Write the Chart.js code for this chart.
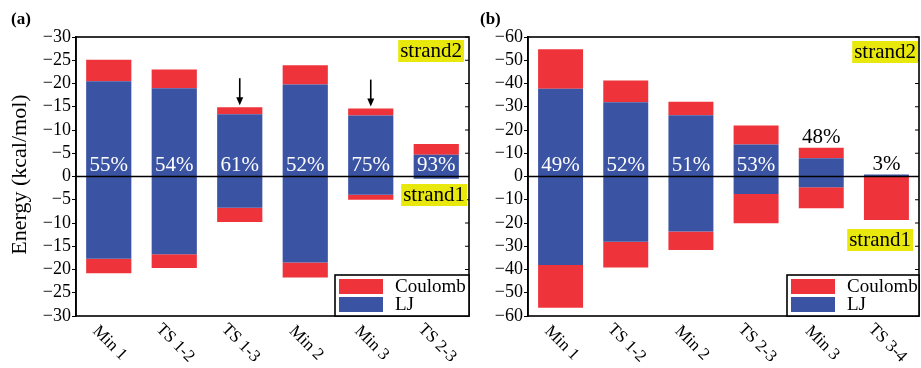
<!DOCTYPE html>
<html><head><meta charset="utf-8">
<script src="https://cdn.jsdelivr.net/npm/chart.js@4/dist/chart.umd.min.js"></script>
<style>
html,body{margin:0;padding:0;background:#fff;}
#wrap{position:relative;width:921px;height:368px;overflow:hidden;background:#fff;}
#ca{position:absolute;left:0;top:0;}
#cb{position:absolute;left:470px;top:0;}
</style></head><body>
<div id="wrap"><canvas id="ca" width="470" height="368"></canvas><canvas id="cb" width="451" height="368"></canvas></div>
<script>
// ---------- DATA ----------
const categoriesA = ['Min 1','TS 1-2','TS 1-3','Min 2','Min 3','TS 2-3'];
const ljStrand2A = [20.5, 19.0, 13.4, 19.8, 13.1, 4.7];
const coulombStrand2A = [4.6, 4.0, 1.5, 4.1, 1.5, 2.3];
const ljStrand1A = [17.7, 16.7, 6.7, 18.5, 3.9, 0.5];
const coulombStrand1A = [3.1, 3.0, 3.1, 3.2, 1.1, 0];
const percentA = ['55%','54%','61%','52%','75%','93%'];

const categoriesB = ['Min 1','TS 1-2','Min 2','TS 2-3','Min 3','TS 3-4'];
const ljStrand2B = [37.7, 31.9, 26.3, 13.8, 7.9, 0.9];
const coulombStrand2B = [17.0, 9.4, 5.9, 8.1, 4.5, 0];
const ljStrand1B = [38.1, 28.1, 23.7, 7.5, 4.6, 0];
const coulombStrand1B = [18.3, 11.0, 7.9, 12.6, 9.1, 18.7];
const percentB = ['49%','52%','51%','53%','48%','3%'];

const yRangeA = 30, yStepA = 5;
const yRangeB = 60, yStepB = 10;
const legendLabels = ['Coulomb','LJ'];

// ---------- STYLE ----------
const SERIF = '"Liberation Serif","Times New Roman",serif';
const RED = '#ee333b';
const BLUE = '#3a53a3';

const deco = {
  id: 'deco',
  afterDatasetsDraw(chart, args, o) {
    const ctx = chart.ctx, a = chart.chartArea, x = chart.scales.x, y = chart.scales.y;
    ctx.save();
    const y0 = y.getPixelForValue(0);
    ctx.strokeStyle = '#000'; ctx.lineWidth = 1.3;
    ctx.beginPath(); ctx.moveTo(a.left, y0); ctx.lineTo(a.right, y0); ctx.stroke();
    ctx.lineWidth = 1.6;
    ctx.strokeRect(a.left, a.top, a.right - a.left, a.bottom - a.top);
    ctx.lineWidth = 1;
    y.ticks.forEach(t => {
      const py = y.getPixelForValue(t.value);
      ctx.beginPath(); ctx.moveTo(a.right, py); ctx.lineTo(a.right - 4, py); ctx.stroke();
    });
    ctx.font = '21px ' + SERIF;
    ctx.textAlign = 'center'; ctx.textBaseline = 'middle';
    o.pct.forEach((p, i) => {
      const cx = x.getPixelForValue(i);
      if (o.outside[i]) {
        const top = y.getPixelForValue(o.lj2[i] + o.c2[i]);
        ctx.fillStyle = '#000';
        ctx.fillText(p, cx, top - 10);
      } else {
        ctx.fillStyle = '#fff';
        ctx.fillText(p, cx, y0 - 11);
      }
    });
    ctx.fillStyle = '#000'; ctx.strokeStyle = '#000';
    o.arrows.forEach(i => {
      const cx = x.getPixelForValue(i);
      const tip = y.getPixelForValue(o.lj2[i] + o.c2[i]) - 2;
      ctx.lineWidth = 1.6;
      ctx.beginPath(); ctx.moveTo(cx, tip - 27); ctx.lineTo(cx, tip - 6); ctx.stroke();
      ctx.beginPath(); ctx.moveTo(cx, tip); ctx.lineTo(cx - 3.5, tip - 8); ctx.lineTo(cx + 3.5, tip - 8); ctx.closePath(); ctx.fill();
    });
    ctx.font = '21px ' + SERIF;
    ctx.textAlign = 'left'; ctx.textBaseline = 'alphabetic';
    o.strands.forEach(s => {
      const w = ctx.measureText(s.text).width;
      ctx.fillStyle = '#e9e80c';
      ctx.fillRect(s.right - w - 4, s.top, w + 4, 22);
      ctx.fillStyle = '#000';
      ctx.fillText(s.text, s.right - w - 2, s.top + 17);
    });
    const lw = o.legendW, lh = 41;
    const lx = a.right - lw, ly = a.bottom - lh;
    ctx.fillStyle = '#fff'; ctx.fillRect(lx, ly, lw, lh);
    ctx.lineWidth = 1.6; ctx.strokeStyle = '#000'; ctx.strokeRect(lx, ly, lw, lh);
    ctx.fillStyle = RED; ctx.fillRect(lx + 4, ly + 4, 44, 15);
    ctx.fillStyle = BLUE; ctx.fillRect(lx + 4, ly + 22, 44, 15);
    ctx.fillStyle = '#000'; ctx.font = '19px ' + SERIF; ctx.textBaseline = 'middle';
    ctx.fillText(legendLabels[0], lx + 60, ly + 12);
    ctx.fillText(legendLabels[1], lx + 60, ly + 30);
    ctx.font = '17px ' + SERIF; ctx.textAlign = 'center'; ctx.textBaseline = 'middle';
    chart.data.labels.forEach((lab, i) => {
      const cx = x.getPixelForValue(i);
      ctx.save();
      ctx.translate(cx + 1, a.bottom + 27);
      ctx.rotate(Math.PI / 4);
      ctx.fillText(lab, 0, 0);
      ctx.restore();
    });
    if (o.ytitle) {
      ctx.save();
      ctx.font = '22px ' + SERIF;
      ctx.translate(20, (a.top + a.bottom) / 2 - 2);
      ctx.rotate(-Math.PI / 2);
      ctx.textAlign = 'center'; ctx.textBaseline = 'middle';
      ctx.fillText(o.ytitle, 0, 0);
      ctx.restore();
    }
    ctx.font = 'bold 17px ' + SERIF; ctx.textAlign = 'left'; ctx.textBaseline = 'middle';
    ctx.fillText(o.panel, o.panelX, 20);
    ctx.restore();
  }
};

function makePanel(id, cats, lj2, c2, lj1, c1, pct, range, step, axisW, padRight, extra) {
  return new Chart(document.getElementById(id), {
    type: 'bar',
    data: {
      labels: cats,
      datasets: [
        { label: 'LJ', data: lj2, backgroundColor: BLUE },
        { label: 'Coulomb', data: c2, backgroundColor: RED },
        { label: 'LJ', data: lj1.map(v => -v), backgroundColor: BLUE },
        { label: 'Coulomb', data: c1.map(v => -v), backgroundColor: RED }
      ]
    },
    options: {
      responsive: false, animation: false,
      devicePixelRatio: 1,
      layout: { padding: { left: 0, right: padRight, top: 37, bottom: 0 } },
      datasets: { bar: { categoryPercentage: 1, barPercentage: 0.69, borderWidth: 0 } },
      plugins: {
        legend: { display: false }, tooltip: { enabled: false },
        deco: Object.assign({ pct, lj2, c2 }, extra)
      },
      scales: {
        x: {
          stacked: true,
          grid: { display: false }, border: { display: false },
          ticks: { display: false },
          afterFit: s => { s.height = 52; }
        },
        y: {
          stacked: true, min: -range, max: range,
          ticks: {
            stepSize: step, color: '#000', padding: 1, autoSkip: false,
            font: { family: SERIF, size: 18 },
            callback: v => v === 0 ? '0' : '\u2212' + Math.abs(v)
          },
          grid: { drawOnChartArea: false, drawTicks: true, tickLength: 4, color: '#000', lineWidth: 1 },
          border: { display: true, color: '#000', width: 1.6 },
          afterFit: s => { s.width = axisW; }
        }
      }
    },
    plugins: [deco]
  });
}

makePanel('ca', categoriesA, ljStrand2A, coulombStrand2A, ljStrand1A, coulombStrand1A, percentA,
  yRangeA, yStepA, 76, 1, {
    outside: [false, false, false, false, false, false],
    arrows: [2, 4],
    strands: [{ text: 'strand2', right: 464, top: 40 }, { text: 'strand1', right: 467, top: 184 }],
    legendW: 134, ytitle: 'Energy (kcal/mol)', panel: '(a)', panelX: 11
  });
makePanel('cb', categoriesB, ljStrand2B, coulombStrand2B, ljStrand1B, coulombStrand1B, percentB,
  yRangeB, yStepB, 58, 2, {
    outside: [false, false, false, false, true, true],
    arrows: [],
    strands: [{ text: 'strand2', right: 448, top: 41 }, { text: 'strand1', right: 443, top: 229 }],
    legendW: 132, ytitle: null, panel: '(b)', panelX: 10
  });
</script>
</body></html>
